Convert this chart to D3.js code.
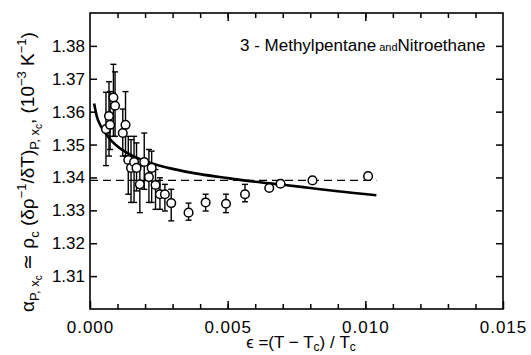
<!DOCTYPE html>
<html>
<head>
<meta charset="utf-8">
<script src="https://cdn.jsdelivr.net/npm/d3@7"></script>
<style>
  body { margin: 0; background: #fff; }
  text { font-family: "Liberation Sans", Arial, sans-serif; fill: #000; }
</style>
</head>
<body>
<div id="chart"></div>
<script>
// data
var eps = [0.00058, 0.00069, 0.00073, 0.00085, 0.00091, 0.00119, 0.00129, 0.00139, 0.00149, 0.00160,
  0.00169, 0.00181, 0.00197, 0.00214, 0.00224, 0.00238, 0.00254, 0.00272, 0.00295, 0.00358,
  0.00420, 0.00494, 0.00563, 0.00651, 0.00692, 0.00808, 0.01010];
var alpha = [1.3547, 1.3587, 1.3560, 1.3643, 1.3618, 1.3535, 1.3560, 1.3453, 1.3429, 1.3447,
  1.3429, 1.3379, 1.3447, 1.3401, 1.3429, 1.3377, 1.3349, 1.3349, 1.3322, 1.3293,
  1.3324, 1.3320, 1.3349, 1.3368, 1.3381, 1.3391, 1.3404];
var errHigh = [1.3659, 1.3691, 1.3661, 1.3744, 1.3721, 1.3608, 1.3661, 1.3525, 1.3515, 1.3525,
  1.3505, 1.3435, 1.3535, 1.3485, 1.3480, 1.3424, 1.3399, 1.3379, 1.3364, 1.3322,
  1.3349, 1.3349, 1.3379, null, null, null, null];
var errLow = [1.3436, 1.3465, 1.3485, 1.3525, 1.3525, 1.3465, 1.3465, 1.3349, 1.3324, 1.3324,
  1.3359, 1.3293, 1.3364, 1.3324, 1.3324, 1.3303, 1.3303, 1.3298, 1.3268, 1.3270,
  1.3298, 1.3293, 1.3326, null, null, null, null];

// fitted curve (solid) and background value (dashed)
var curveEps = [0.00015, 0.00025, 0.0004, 0.0006, 0.0008, 0.0011, 0.0015, 0.002, 0.0025, 0.003,
  0.004, 0.005, 0.006, 0.007, 0.008, 0.009, 0.0104];
var curveAlpha = [1.3625, 1.3585, 1.3555, 1.3530, 1.3510, 1.3488, 1.3468, 1.3450, 1.3436, 1.3426,
  1.3410, 1.3398, 1.3387, 1.3378, 1.3368, 1.3358, 1.3346];
var dashEps = [0.0, 0.0104];
var dashAlpha = [1.3391, 1.3391];

var xTicks = [0.000, 0.005, 0.010, 0.015];
var yTicks = [1.31, 1.32, 1.33, 1.34, 1.35, 1.36, 1.37, 1.38];

var svgWidth = 531;
var svgHeight = 355;
var margin = { top: 13, right: 28, bottom: 46, left: 90 };
var width = svgWidth - margin.left - margin.right;
var height = svgHeight - margin.top - margin.bottom;

var svg = d3.select("#chart")
  .append("svg")
  .attr("width", svgWidth)
  .attr("height", svgHeight);

var chartGroup = svg.append("g")
  .attr("transform", `translate(${margin.left}, ${margin.top})`);

var xScale = d3.scaleLinear().domain([0, 0.015]).range([0, width]);
var yScale = d3.scaleLinear().domain([1.30, 1.39]).range([height, 0]);

// minor ticks every 0.001 on x
var xMinor = d3.range(1, 15).map(i => i / 1000);

// bottom axis (ticks inward)
chartGroup.append("g")
  .attr("transform", `translate(0, ${height})`)
  .call(d3.axisBottom(xScale).tickValues(xMinor).tickSize(-5).tickFormat(""))
  .call(g => g.select(".domain").remove());
chartGroup.append("g")
  .attr("transform", `translate(0, ${height})`)
  .call(d3.axisBottom(xScale).tickValues(xTicks).tickSize(-8).tickPadding(12).tickFormat(d3.format(".3f")))
  .call(g => g.select(".domain").remove())
  .call(g => g.selectAll("text").attr("font-size", 17).attr("letter-spacing", 1));
// top axis
chartGroup.append("g")
  .call(d3.axisTop(xScale).tickValues(xMinor).tickSize(-5).tickFormat(""))
  .call(g => g.select(".domain").remove());
chartGroup.append("g")
  .call(d3.axisTop(xScale).tickValues([0.005, 0.010]).tickSize(-8).tickFormat(""))
  .call(g => g.select(".domain").remove());

// left axis
chartGroup.append("g")
  .call(d3.axisLeft(yScale).tickValues(yTicks).tickSize(-7).tickPadding(6).tickFormat(d3.format(".2f")))
  .call(g => g.select(".domain").remove())
  .call(g => g.selectAll("text").attr("font-size", 17).attr("x", -5));
// right axis
chartGroup.append("g")
  .attr("transform", `translate(${width}, 0)`)
  .call(d3.axisRight(yScale).tickValues(yTicks).tickSize(-7).tickFormat(""))
  .call(g => g.select(".domain").remove());

chartGroup.selectAll(".tick line").attr("stroke", "#000").attr("stroke-width", 1.5);

// frame
chartGroup.append("rect")
  .attr("width", width)
  .attr("height", height)
  .attr("fill", "none")
  .attr("stroke", "#000")
  .attr("stroke-width", 1.6);

var line = d3.line()
  .x(d => xScale(d[0]))
  .y(d => yScale(d[1]));

// dashed line
chartGroup.append("path")
  .datum(d3.zip(dashEps, dashAlpha))
  .attr("d", line)
  .attr("fill", "none")
  .attr("stroke", "#000")
  .attr("stroke-width", 1.3)
  .attr("stroke-dasharray", "8,5");

// solid curve
chartGroup.append("path")
  .datum(d3.zip(curveEps, curveAlpha))
  .attr("d", line.curve(d3.curveMonotoneX))
  .attr("fill", "none")
  .attr("stroke", "#000")
  .attr("stroke-width", 2.6);

// error bars
var points = eps.map((e, i) => ({ x: e, y: alpha[i], hi: errHigh[i], lo: errLow[i] }));
var withErr = points.filter(d => d.hi != null);
var errGroup = chartGroup.append("g").attr("stroke", "#000").attr("stroke-width", 1.4);
errGroup.selectAll(".bar")
  .data(withErr)
  .enter()
  .append("line")
  .attr("x1", d => xScale(d.x))
  .attr("x2", d => xScale(d.x))
  .attr("y1", d => yScale(d.hi))
  .attr("y2", d => yScale(d.lo));
errGroup.selectAll(".capHi")
  .data(withErr)
  .enter()
  .append("line")
  .attr("x1", d => xScale(d.x) - 3)
  .attr("x2", d => xScale(d.x) + 3)
  .attr("y1", d => yScale(d.hi))
  .attr("y2", d => yScale(d.hi));
errGroup.selectAll(".capLo")
  .data(withErr)
  .enter()
  .append("line")
  .attr("x1", d => xScale(d.x) - 3)
  .attr("x2", d => xScale(d.x) + 3)
  .attr("y1", d => yScale(d.lo))
  .attr("y2", d => yScale(d.lo));

// open circles
chartGroup.selectAll("circle")
  .data(points)
  .enter()
  .append("circle")
  .attr("cx", d => xScale(d.x))
  .attr("cy", d => yScale(d.y))
  .attr("r", 4.3)
  .attr("fill", "#fff")
  .attr("stroke", "#000")
  .attr("stroke-width", 1.5);

// title inside plot
var title = chartGroup.append("text")
  .attr("x", 150)
  .attr("y", 38)
  .attr("font-size", 17);
title.append("tspan").text("3 - Methylpentane");
title.append("tspan").attr("font-size", 11).text(" and");
title.append("tspan").text("Nitroethane");

// x label
var xLabel = svg.append("text")
  .attr("x", 301)
  .attr("y", 348)
  .attr("text-anchor", "middle")
  .attr("font-size", 17);
xLabel.append("tspan").text("ϵ =(T − T");
xLabel.append("tspan").attr("font-size", 12).attr("dy", 3).text("c");
xLabel.append("tspan").attr("dy", -3).text(") / T");
xLabel.append("tspan").attr("font-size", 12).attr("dy", 3).text("c");

// y label
var yLabel = svg.append("text")
  .attr("transform", "translate(34, 172) rotate(-90)")
  .attr("text-anchor", "middle")
  .attr("font-size", 19);
yLabel.append("tspan").text("α");
yLabel.append("tspan").attr("font-size", 13).attr("dy", 5).text("P, x");
yLabel.append("tspan").attr("font-size", 10).attr("dy", 3).text("c");
yLabel.append("tspan").attr("dy", -8).text(" ≃ ρ");
yLabel.append("tspan").attr("font-size", 13).attr("dy", 5).text("c");
yLabel.append("tspan").attr("dy", -5).text(" (δρ");
yLabel.append("tspan").attr("font-size", 13).attr("dy", -8).text("−1");
yLabel.append("tspan").attr("dy", 8).text("/δT)");
yLabel.append("tspan").attr("font-size", 13).attr("dy", 5).text("P, x");
yLabel.append("tspan").attr("font-size", 10).attr("dy", 3).text("c");
yLabel.append("tspan").attr("dy", -8).text(", (10");
yLabel.append("tspan").attr("font-size", 13).attr("dy", -8).text("−3");
yLabel.append("tspan").attr("dy", 8).text(" K");
yLabel.append("tspan").attr("font-size", 13).attr("dy", -8).text("−1");
yLabel.append("tspan").attr("dy", 8).text(")");
</script>
</body>
</html>
